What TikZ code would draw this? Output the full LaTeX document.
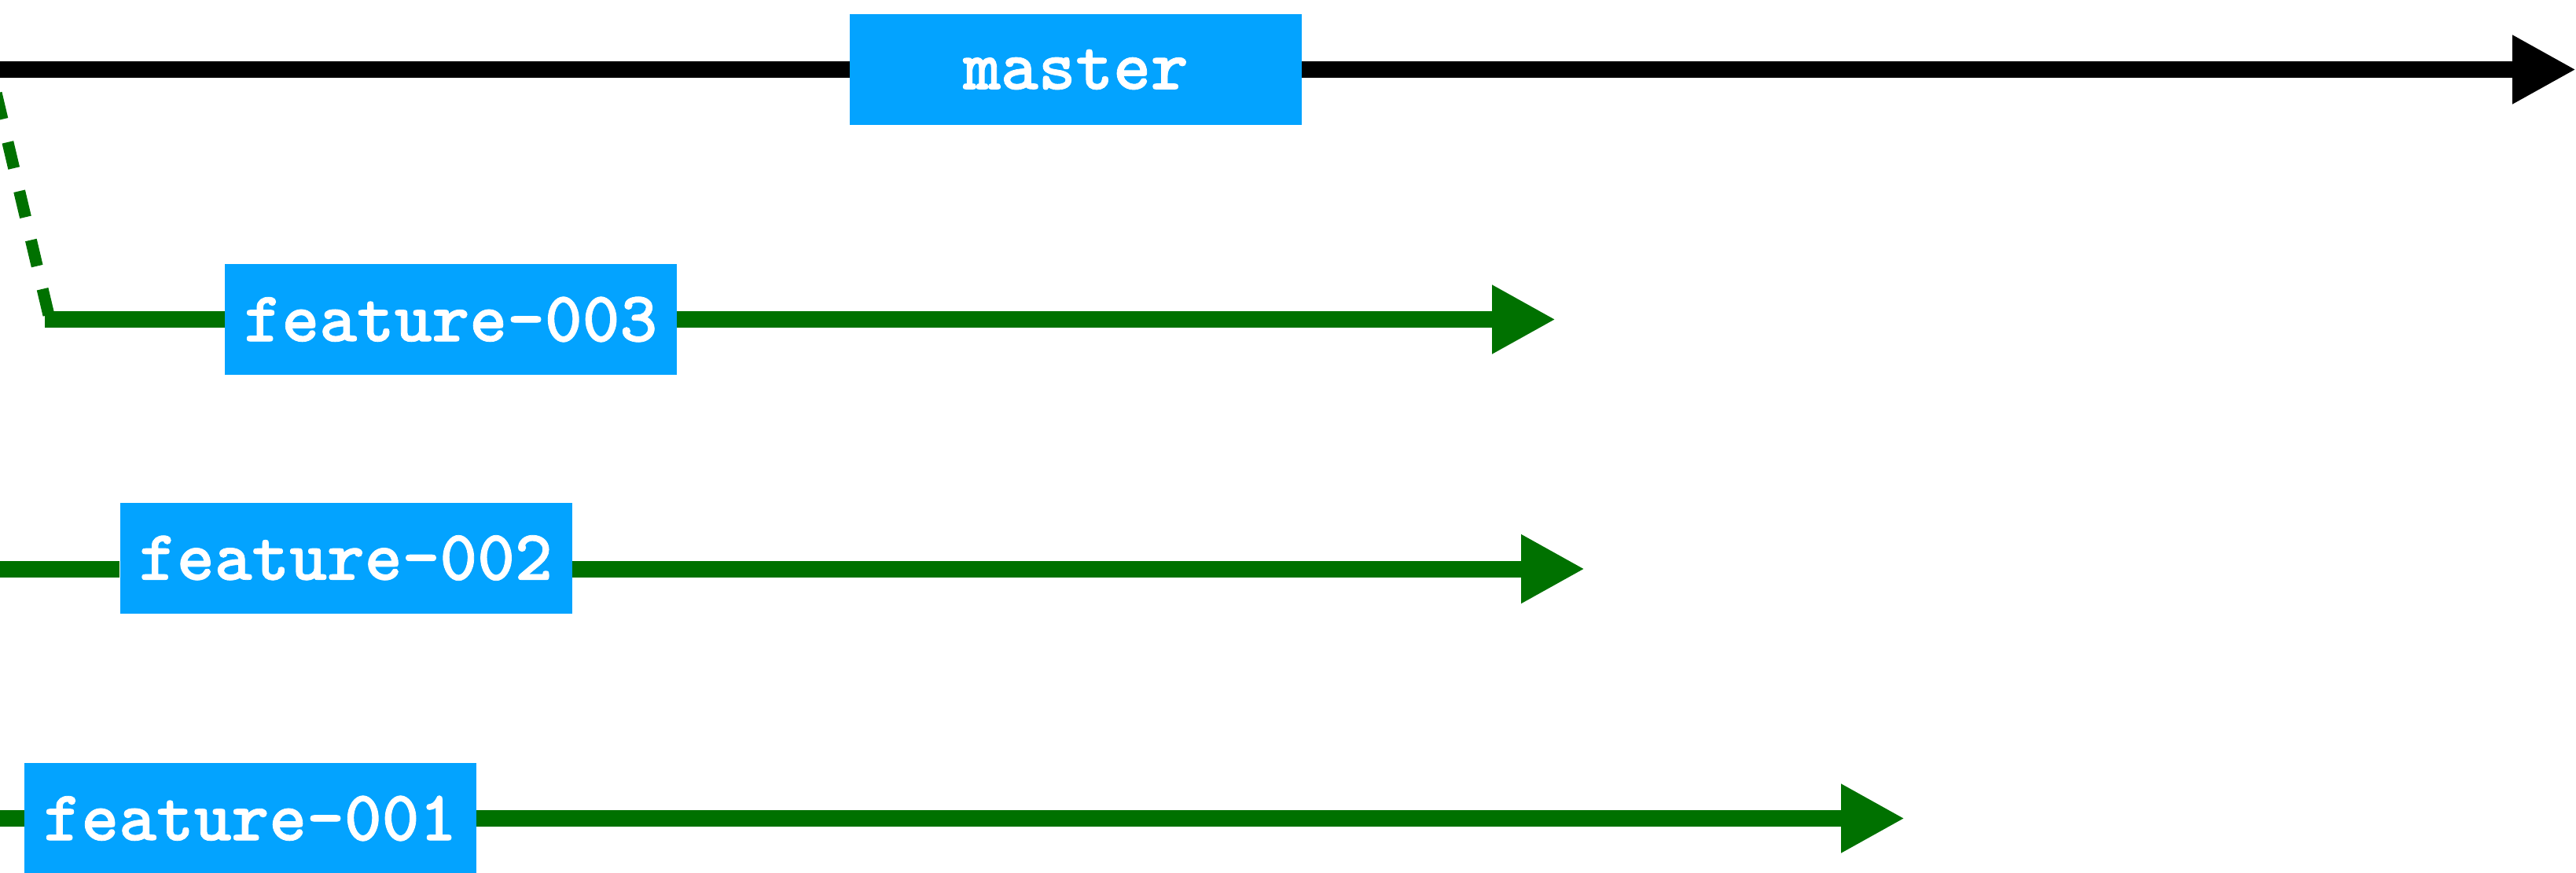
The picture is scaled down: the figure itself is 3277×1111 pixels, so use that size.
\documentclass[tikz,border=0pt]{standalone}
\usepackage{fontspec}
\newfontfamily\labelfont[Extension=.otf, FakeBold=0.9]{lmmonolt10-bold}
\usetikzlibrary{arrows.meta}
\definecolor{boxblue}{RGB}{3,163,255}
\definecolor{branchgreen}{RGB}{0,113,0}
\begin{document}
\begin{tikzpicture}[x=1pt,y=-1pt,
  labelbox/.style={fill=boxblue, text=white, minimum width=575pt, minimum height=141pt,
    inner sep=0pt, font=\fontsize{91}{100}\selectfont\labelfont},
  mainline/.style={line width=21pt, draw=black},
  branch/.style={line width=21pt, draw=branchgreen},
  forkline/.style={line width=15pt, draw=branchgreen, dash pattern=on 34pt off 30pt, dash phase=33pt},
  bigtip/.style={-{Triangle[length=81pt,width=82pt]}},
  ]
\useasboundingbox (0,0) rectangle (3277,1111);

% label boxes
\node[labelbox] (master) at (1368.5,88.5) {master};
\node[labelbox] (f3) at (573.5,406.5) {feature-003};
\node[labelbox] (f2) at (440,710) {feature-002};
\node[labelbox] (f1) at (318.5,1041.5) {feature-001};

% free ends
\coordinate (m0) at (0,88.5);
\coordinate (m1) at (3277,88.5);
\coordinate (fork) at (-12,88.5);
\coordinate (f3top) at (62,401);
\coordinate (f3s) at (57,406.5);
\coordinate (f3e) at (1979,406.5);
\coordinate (f2s) at (0,724);
\coordinate (f2e) at (2016,724);
\coordinate (f1s) at (0,1041.5);
\coordinate (f1e) at (2423,1041.5);

% master
\draw[mainline] (m0) -- (master.west);
\draw[mainline,bigtip] (master.east) -- (m1);

% feature-003 (forked from master)
\draw[forkline] (fork) -- (f3top);
\draw[branch] (f3s) -- (f3.west);
\draw[branch,bigtip] (f3.east) -- (f3e);

% feature-002
\draw[branch] (f2s) -- (f2s -| f2.west);
\draw[branch,bigtip] (f2s -| f2.east) -- (f2e);

% feature-001
\draw[branch] (f1s) -- (f1.west);
\draw[branch,bigtip] (f1.east) -- (f1e);
\end{tikzpicture}
\end{document}
